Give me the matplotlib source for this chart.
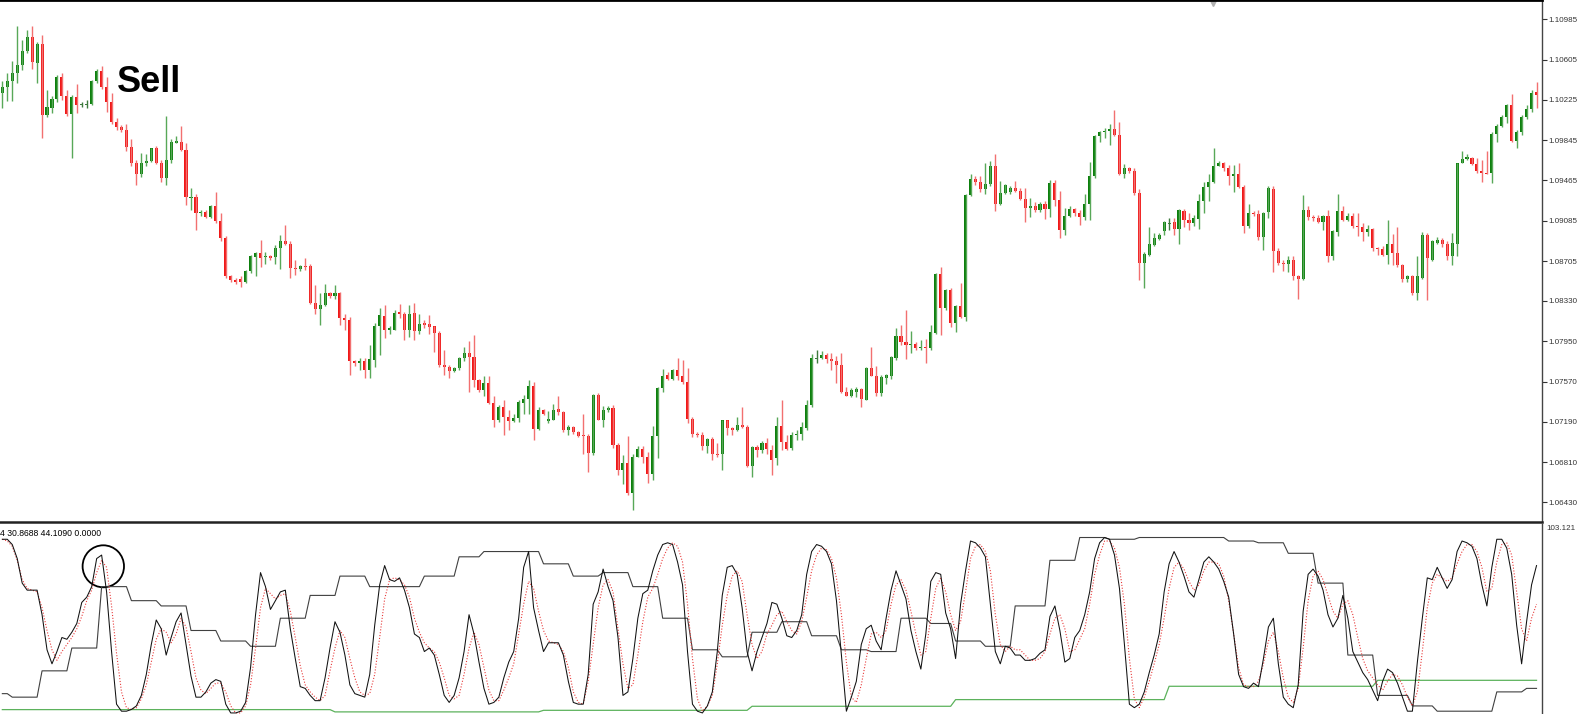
import numpy as np
import matplotlib.pyplot as plt
from matplotlib.patches import Ellipse

plt.rcParams['font.family'] = ['Liberation Sans', 'DejaVu Sans']

# ---- price candles ----
opens = [
    1.1029, 1.1035, 1.1040, 1.1048, 1.1055, 1.1069, 1.1082, 1.1057, 1.1075, 1.1008,
    1.1015, 1.1023, 1.1044, 1.1026, 1.1009, 1.1025, 1.1018, 1.1018, 1.1019, 1.1040,
    1.1050, 1.1035, 1.1020, 1.1002, 1.0997, 1.0994, 1.0978, 1.0963, 1.0953, 1.0963,
    1.0965, 1.0977, 1.0963, 1.0949, 1.0966, 1.0982, 1.0983, 1.0975, 1.0930, 1.0931,
    1.0916, 1.0917, 1.0912, 1.0922, 1.0908, 1.0892, 1.0856, 1.0853, 1.0854, 1.0851,
    1.0861, 1.0874, 1.0878, 1.0874, 1.0875, 1.0874, 1.0883, 1.0889, 1.0887, 1.0864,
    1.0863, 1.0866, 1.0866, 1.0831, 1.0825, 1.0829, 1.0840, 1.0838, 1.0840, 1.0817,
    1.0815, 1.0776, 1.0774, 1.0776, 1.0768, 1.0777, 1.0809, 1.0819, 1.0806, 1.0806,
    1.0823, 1.0821, 1.0806, 1.0822, 1.0805, 1.0812, 1.0811, 1.0809, 1.0803, 1.0773,
    1.0771, 1.0767, 1.0770, 1.0779, 1.0784, 1.0780, 1.0758, 1.0749, 1.0756, 1.0737,
    1.0721, 1.0733, 1.0724, 1.0720, 1.0723, 1.0737, 1.0741, 1.0753, 1.0712, 1.0730,
    1.0720, 1.0721, 1.0731, 1.0728, 1.0711, 1.0714, 1.0709, 1.0707, 1.0706, 1.0690,
    1.0744, 1.0721, 1.0730, 1.0732, 1.0697, 1.0674, 1.0680, 1.0652, 1.0686, 1.0693,
    1.0686, 1.0670, 1.0706, 1.0751, 1.0763, 1.0759, 1.0768, 1.0762, 1.0757, 1.0722,
    1.0708, 1.0707, 1.0696, 1.0703, 1.0689, 1.0689, 1.0721, 1.0713, 1.0711, 1.0716,
    1.0714, 1.0677, 1.0695, 1.0692, 1.0699, 1.0692, 1.0685, 1.0715, 1.0700, 1.0694,
    1.0707, 1.0708, 1.0713, 1.0735, 1.0779, 1.0779, 1.0782, 1.0778, 1.0776, 1.0773,
    1.0747, 1.0743, 1.0747, 1.0750, 1.0740, 1.0770, 1.0762, 1.0746, 1.0760, 1.0762,
    1.0779, 1.0800, 1.0794, 1.0791, 1.0792, 1.0789, 1.0790, 1.0789, 1.0803, 1.0858,
    1.0826, 1.0843, 1.0812, 1.0828, 1.0818, 1.0933, 1.0948, 1.0945, 1.0938, 1.0943,
    1.0960, 1.0924, 1.0935, 1.0936, 1.0939, 1.0937, 1.0929, 1.0921, 1.0922, 1.0919,
    1.0924, 1.0920, 1.0944, 1.0928, 1.0900, 1.0913, 1.0920, 1.0916, 1.0912, 1.0924,
    1.0951, 1.0988, 1.0992, 1.0993, 1.0995, 1.0989, 1.0953, 1.0958, 1.0955, 1.0935,
    1.0869, 1.0876, 1.0886, 1.0891, 1.0899, 1.0906, 1.0907, 1.0901, 1.0918, 1.0909,
    1.0906, 1.0910, 1.0927, 1.0940, 1.0945, 1.0960, 1.0963, 1.0958, 1.0951, 1.0953,
    1.0940, 1.0904, 1.0916, 1.0915, 1.0893, 1.0917, 1.0938, 1.0880, 1.0869, 1.0868,
    1.0872, 1.0856, 1.0854, 1.0919, 1.0912, 1.0911, 1.0907, 1.0913, 1.0875, 1.0898,
    1.0918, 1.0909, 1.0913, 1.0904, 1.0903, 1.0898, 1.0901, 1.0883, 1.0882, 1.0876,
    1.0887, 1.0878, 1.0867, 1.0854, 1.0856, 1.0840, 1.0855, 1.0895, 1.0872, 1.0888,
    1.0890, 1.0887, 1.0875, 1.0887, 1.0963, 1.0967, 1.0968, 1.0962, 1.0955, 1.0954,
    1.0954, 1.0990, 1.0998, 1.1006, 1.1018, 1.0984, 1.0992, 1.1006, 1.1014, 1.1030,
]
highs = [
    1.1040, 1.1048, 1.1059, 1.1092, 1.1079, 1.1088, 1.1092, 1.1077, 1.1084, 1.1032,
    1.1026, 1.1046, 1.1048, 1.1032, 1.1027, 1.1037, 1.1020, 1.1022, 1.1041, 1.1052,
    1.1054, 1.1044, 1.1029, 1.1005, 1.0999, 1.1000, 1.0986, 1.0966, 1.0972, 1.0971,
    1.0977, 1.0979, 1.0966, 1.1007, 1.0986, 1.0988, 1.0998, 1.0982, 1.0939, 1.0934,
    1.0919, 1.0919, 1.0923, 1.0936, 1.0916, 1.0894, 1.0857, 1.0855, 1.0856, 1.0862,
    1.0876, 1.0879, 1.0890, 1.0879, 1.0876, 1.0886, 1.0895, 1.0905, 1.0889, 1.0872,
    1.0867, 1.0873, 1.0868, 1.0848, 1.0840, 1.0849, 1.0841, 1.0848, 1.0841, 1.0821,
    1.0818, 1.0777, 1.0779, 1.0779, 1.0791, 1.0812, 1.0826, 1.0829, 1.0809, 1.0824,
    1.0830, 1.0823, 1.0829, 1.0831, 1.0821, 1.0815, 1.0820, 1.0809, 1.0805, 1.0787,
    1.0773, 1.0771, 1.0780, 1.0790, 1.0795, 1.0801, 1.0759, 1.0762, 1.0762, 1.0743,
    1.0735, 1.0740, 1.0730, 1.0726, 1.0740, 1.0744, 1.0758, 1.0757, 1.0733, 1.0731,
    1.0729, 1.0736, 1.0743, 1.0729, 1.0716, 1.0715, 1.0710, 1.0726, 1.0708, 1.0745,
    1.0746, 1.0734, 1.0734, 1.0735, 1.0699, 1.0688, 1.0706, 1.0689, 1.0696, 1.0696,
    1.0691, 1.0715, 1.0752, 1.0769, 1.0766, 1.0769, 1.0779, 1.0777, 1.0770, 1.0724,
    1.0709, 1.0709, 1.0704, 1.0705, 1.0699, 1.0721, 1.0721, 1.0714, 1.0724, 1.0733,
    1.0716, 1.0696, 1.0697, 1.0701, 1.0704, 1.0697, 1.0724, 1.0740, 1.0707, 1.0709,
    1.0711, 1.0719, 1.0740, 1.0783, 1.0787, 1.0786, 1.0784, 1.0784, 1.0781, 1.0784,
    1.0752, 1.0751, 1.0752, 1.0751, 1.0771, 1.0790, 1.0772, 1.0763, 1.0764, 1.0781,
    1.0807, 1.0810, 1.0824, 1.0805, 1.0794, 1.0796, 1.0797, 1.0810, 1.0859, 1.0865,
    1.0844, 1.0845, 1.0829, 1.0850, 1.0934, 1.0953, 1.0951, 1.0951, 1.0963, 1.0965,
    1.0971, 1.0946, 1.0943, 1.0941, 1.0946, 1.0939, 1.0939, 1.0930, 1.0926, 1.0926,
    1.0927, 1.0947, 1.0947, 1.0937, 1.0921, 1.0922, 1.0921, 1.0919, 1.0934, 1.0964,
    1.0989, 1.0993, 1.0996, 1.1000, 1.1013, 1.1002, 1.0962, 1.0959, 1.0958, 1.0938,
    1.0879, 1.0903, 1.0897, 1.0897, 1.0908, 1.0911, 1.0911, 1.0920, 1.0920, 1.0916,
    1.0914, 1.0934, 1.0945, 1.0953, 1.0977, 1.0965, 1.0964, 1.0961, 1.0961, 1.0963,
    1.0942, 1.0924, 1.0918, 1.0919, 1.0917, 1.0941, 1.0941, 1.0883, 1.0872, 1.0875,
    1.0875, 1.0857, 1.0933, 1.0922, 1.0914, 1.0914, 1.0914, 1.0919, 1.0900, 1.0934,
    1.0922, 1.0916, 1.0916, 1.0916, 1.0906, 1.0905, 1.0902, 1.0884, 1.0885, 1.0909,
    1.0896, 1.0903, 1.0868, 1.0857, 1.0857, 1.0875, 1.0898, 1.0897, 1.0890, 1.0893,
    1.0892, 1.0889, 1.0897, 1.0963, 1.0974, 1.0971, 1.0969, 1.0968, 1.0966, 1.0974,
    1.0992, 1.1000, 1.1008, 1.1019, 1.1028, 1.0994, 1.1008, 1.1018, 1.1032, 1.1039,
]
lows = [
    1.1015, 1.1021, 1.1021, 1.1038, 1.1051, 1.1067, 1.1052, 1.1038, 1.0987, 1.1006,
    1.1010, 1.1020, 1.1022, 1.1007, 1.0968, 1.1010, 1.1016, 1.1015, 1.1018, 1.1038,
    1.1033, 1.1011, 1.1000, 1.0994, 1.0992, 1.0974, 1.0960, 1.0942, 1.0950, 1.0960,
    1.0964, 1.0962, 1.0945, 1.0942, 1.0963, 1.0982, 1.0974, 1.0923, 1.0919, 1.0900,
    1.0913, 1.0911, 1.0911, 1.0906, 1.0889, 1.0855, 1.0851, 1.0849, 1.0846, 1.0850,
    1.0859, 1.0856, 1.0865, 1.0868, 1.0872, 1.0868, 1.0863, 1.0886, 1.0855, 1.0857,
    1.0861, 1.0862, 1.0830, 1.0821, 1.0810, 1.0828, 1.0836, 1.0835, 1.0810, 1.0806,
    1.0763, 1.0772, 1.0768, 1.0760, 1.0760, 1.0771, 1.0782, 1.0798, 1.0802, 1.0806,
    1.0817, 1.0796, 1.0799, 1.0796, 1.0802, 1.0807, 1.0802, 1.0785, 1.0771, 1.0763,
    1.0760, 1.0766, 1.0768, 1.0776, 1.0747, 1.0752, 1.0747, 1.0743, 1.0736, 1.0714,
    1.0719, 1.0707, 1.0711, 1.0719, 1.0719, 1.0726, 1.0726, 1.0702, 1.0711, 1.0725,
    1.0718, 1.0721, 1.0725, 1.0709, 1.0707, 1.0708, 1.0705, 1.0689, 1.0672, 1.0688,
    1.0721, 1.0714, 1.0728, 1.0694, 1.0669, 1.0660, 1.0650, 1.0636, 1.0686, 1.0680,
    1.0661, 1.0664, 1.0685, 1.0747, 1.0758, 1.0758, 1.0758, 1.0755, 1.0718, 1.0705,
    1.0705, 1.0692, 1.0690, 1.0683, 1.0686, 1.0674, 1.0707, 1.0707, 1.0710, 1.0713,
    1.0676, 1.0667, 1.0686, 1.0690, 1.0689, 1.0669, 1.0678, 1.0692, 1.0692, 1.0692,
    1.0702, 1.0702, 1.0711, 1.0733, 1.0774, 1.0778, 1.0774, 1.0768, 1.0756, 1.0746,
    1.0743, 1.0742, 1.0742, 1.0733, 1.0740, 1.0762, 1.0743, 1.0743, 1.0755, 1.0759,
    1.0777, 1.0791, 1.0778, 1.0784, 1.0787, 1.0787, 1.0774, 1.0787, 1.0802, 1.0801,
    1.0824, 1.0808, 1.0804, 1.0817, 1.0814, 1.0932, 1.0942, 1.0936, 1.0934, 1.0941,
    1.0918, 1.0923, 1.0934, 1.0934, 1.0936, 1.0928, 1.0907, 1.0912, 1.0917, 1.0917,
    1.0910, 1.0912, 1.0922, 1.0892, 1.0895, 1.0912, 1.0913, 1.0905, 1.0909, 1.0909,
    1.0949, 1.0983, 1.0987, 1.0980, 1.0988, 1.0952, 1.0949, 1.0954, 1.0933, 1.0853,
    1.0845, 1.0875, 1.0885, 1.0890, 1.0895, 1.0900, 1.0895, 1.0887, 1.0903, 1.0900,
    1.0904, 1.0901, 1.0916, 1.0927, 1.0944, 1.0960, 1.0955, 1.0942, 1.0936, 1.0939,
    1.0897, 1.0902, 1.0913, 1.0890, 1.0881, 1.0911, 1.0860, 1.0867, 1.0861, 1.0860,
    1.0853, 1.0835, 1.0853, 1.0909, 1.0908, 1.0906, 1.0900, 1.0870, 1.0872, 1.0894,
    1.0908, 1.0908, 1.0902, 1.0894, 1.0889, 1.0894, 1.0880, 1.0876, 1.0875, 1.0868,
    1.0867, 1.0865, 1.0851, 1.0851, 1.0839, 1.0834, 1.0854, 1.0834, 1.0871, 1.0887,
    1.0884, 1.0872, 1.0867, 1.0875, 1.0963, 1.0966, 1.0961, 1.0954, 1.0945, 1.0953,
    1.0944, 1.0983, 1.0997, 1.1001, 1.0983, 1.0977, 1.0989, 1.1004, 1.1011, 1.1015,
]
closes = [
    1.1035, 1.1040, 1.1048, 1.1055, 1.1069, 1.1082, 1.1058, 1.1075, 1.1008, 1.1016,
    1.1023, 1.1044, 1.1026, 1.1009, 1.1025, 1.1018, 1.1018, 1.1018, 1.1040, 1.1050,
    1.1035, 1.1020, 1.1002, 1.0997, 1.0994, 1.0978, 1.0963, 1.0953, 1.0963, 1.0965,
    1.0977, 1.0963, 1.0949, 1.0966, 1.0983, 1.0984, 1.0975, 1.0931, 1.0931, 1.0916,
    1.0917, 1.0912, 1.0922, 1.0908, 1.0892, 1.0856, 1.0853, 1.0851, 1.0851, 1.0861,
    1.0875, 1.0878, 1.0873, 1.0875, 1.0873, 1.0883, 1.0889, 1.0887, 1.0864, 1.0863,
    1.0866, 1.0865, 1.0831, 1.0825, 1.0829, 1.0840, 1.0838, 1.0840, 1.0817, 1.0815,
    1.0776, 1.0774, 1.0776, 1.0768, 1.0778, 1.0809, 1.0820, 1.0806, 1.0807, 1.0822,
    1.0821, 1.0806, 1.0821, 1.0805, 1.0811, 1.0810, 1.0808, 1.0803, 1.0773, 1.0771,
    1.0767, 1.0770, 1.0779, 1.0784, 1.0780, 1.0758, 1.0749, 1.0756, 1.0737, 1.0721,
    1.0733, 1.0724, 1.0720, 1.0723, 1.0738, 1.0741, 1.0753, 1.0712, 1.0730, 1.0726,
    1.0722, 1.0730, 1.0728, 1.0711, 1.0714, 1.0709, 1.0706, 1.0706, 1.0690, 1.0744,
    1.0721, 1.0730, 1.0732, 1.0697, 1.0674, 1.0680, 1.0652, 1.0686, 1.0693, 1.0686,
    1.0670, 1.0706, 1.0751, 1.0762, 1.0759, 1.0768, 1.0762, 1.0757, 1.0722, 1.0708,
    1.0707, 1.0696, 1.0703, 1.0689, 1.0688, 1.0721, 1.0713, 1.0711, 1.0716, 1.0714,
    1.0677, 1.0695, 1.0692, 1.0699, 1.0693, 1.0683, 1.0715, 1.0700, 1.0693, 1.0707,
    1.0708, 1.0714, 1.0735, 1.0779, 1.0779, 1.0782, 1.0778, 1.0776, 1.0773, 1.0747,
    1.0743, 1.0749, 1.0750, 1.0741, 1.0770, 1.0762, 1.0746, 1.0761, 1.0763, 1.0780,
    1.0800, 1.0794, 1.0791, 1.0792, 1.0789, 1.0790, 1.0789, 1.0804, 1.0858, 1.0826,
    1.0843, 1.0812, 1.0828, 1.0818, 1.0933, 1.0948, 1.0945, 1.0938, 1.0943, 1.0960,
    1.0924, 1.0935, 1.0942, 1.0939, 1.0937, 1.0929, 1.0921, 1.0922, 1.0919, 1.0924,
    1.0920, 1.0944, 1.0928, 1.0900, 1.0913, 1.0920, 1.0916, 1.0912, 1.0924, 1.0951,
    1.0988, 1.0992, 1.0993, 1.0995, 1.0989, 1.0953, 1.0958, 1.0955, 1.0935, 1.0869,
    1.0877, 1.0887, 1.0892, 1.0895, 1.0907, 1.0906, 1.0901, 1.0919, 1.0909, 1.0906,
    1.0911, 1.0927, 1.0940, 1.0945, 1.0960, 1.0963, 1.0958, 1.0951, 1.0953, 1.0940,
    1.0904, 1.0916, 1.0915, 1.0893, 1.0916, 1.0939, 1.0880, 1.0869, 1.0868, 1.0872,
    1.0856, 1.0854, 1.0919, 1.0912, 1.0911, 1.0907, 1.0913, 1.0875, 1.0899, 1.0918,
    1.0909, 1.0913, 1.0904, 1.0903, 1.0898, 1.0901, 1.0883, 1.0882, 1.0876, 1.0887,
    1.0878, 1.0867, 1.0854, 1.0856, 1.0840, 1.0856, 1.0895, 1.0873, 1.0889, 1.0890,
    1.0887, 1.0875, 1.0888, 1.0963, 1.0967, 1.0969, 1.0962, 1.0955, 1.0954, 1.0953,
    1.0990, 1.0998, 1.1006, 1.1018, 1.0984, 1.0992, 1.1006, 1.1014, 1.1029, 1.1027,
]

price_ticks = [1.10985, 1.10605, 1.10225, 1.09845, 1.09465, 1.09085, 1.08705,
               1.08330, 1.07950, 1.07570, 1.07190, 1.06810, 1.06430]

# ---- oscillator window ----
stoch_main = [
    99, 99, 96, 88, 74, 70, 70, 70, 56, 36, 28, 35, 43, 42, 46, 51, 63, 66, 72, 88,
    90, 69, 35, 5, 1, 1, 2, 4, 10, 22, 39, 53, 48, 33, 43, 52, 57, 39, 21, 9,
    9, 12, 17, 19, 18, 5, 0, 0, 1, 6, 26, 56, 80, 72, 59, 64, 69, 70, 48, 31,
    15, 14, 10, 7, 7, 20, 37, 52, 46, 33, 16, 11, 10, 9, 22, 50, 73, 84, 76, 75,
    77, 70, 60, 45, 43, 35, 37, 33, 22, 10, 6, 10, 20, 35, 56, 45, 29, 14, 5, 6,
    9, 20, 29, 35, 54, 83, 92, 60, 47, 35, 40, 40, 40, 33, 18, 6, 5, 5, 22, 62,
    69, 82, 72, 64, 43, 10, 12, 31, 54, 68, 70, 81, 90, 96, 97, 96, 86, 73, 35, 5,
    1, 0, 4, 12, 35, 67, 83, 84, 79, 60, 35, 24, 35, 43, 51, 63, 62, 54, 44, 43,
    47, 56, 79, 92, 96, 95, 92, 85, 64, 33, 1, 9, 18, 39, 48, 50, 41, 36, 54, 70,
    81, 73, 65, 47, 35, 25, 45, 75, 80, 79, 57, 48, 31, 62, 81, 98, 97, 94, 89, 62,
    35, 28, 38, 37, 33, 33, 30, 30, 31, 34, 36, 55, 61, 47, 29, 31, 43, 47, 56, 69,
    88, 97, 100, 99, 90, 71, 39, 5, 3, 5, 12, 23, 33, 45, 69, 85, 92, 86, 78, 69,
    66, 76, 86, 89, 86, 82, 75, 66, 45, 22, 15, 14, 17, 15, 31, 49, 54, 28, 9, 5,
    3, 16, 58, 79, 82, 78, 70, 56, 49, 54, 67, 54, 35, 29, 23, 19, 13, 7, 18, 25,
    23, 17, 9, 1, 1, 29, 54, 77, 76, 83, 77, 71, 76, 92, 98, 97, 95, 88, 73, 61,
    83, 99, 99, 94, 79, 50, 28, 52, 73, 84,
]
stoch_signal = [
    99, 98, 95, 87, 76, 71, 70, 69, 60, 47, 36, 30, 35, 39, 43, 48, 55, 64, 70, 80,
    87, 83, 61, 34, 12, 3, 2, 3, 8, 16, 29, 42, 48, 46, 40, 45, 54, 49, 35, 20,
    13, 11, 14, 17, 17, 12, 4, 0, 0, 4, 16, 37, 60, 71, 68, 65, 67, 68, 58, 43,
    27, 16, 12, 9, 7, 10, 24, 37, 47, 43, 31, 20, 12, 10, 11, 22, 43, 65, 76, 77,
    76, 73, 66, 54, 46, 40, 37, 35, 29, 20, 10, 8, 10, 22, 37, 46, 39, 26, 13, 7,
    7, 13, 20, 28, 45, 62, 75, 71, 58, 47, 41, 40, 39, 35, 26, 12, 6, 5, 18, 39,
    60, 73, 76, 69, 48, 28, 14, 16, 33, 52, 66, 71, 79, 88, 94, 97, 95, 86, 62, 31,
    8, 1, 4, 10, 28, 50, 67, 78, 81, 75, 56, 39, 31, 35, 45, 50, 56, 58, 52, 47,
    45, 52, 66, 81, 90, 94, 93, 88, 77, 56, 29, 9, 6, 16, 31, 45, 46, 43, 47, 62,
    73, 76, 70, 58, 45, 33, 35, 54, 71, 77, 69, 56, 47, 52, 69, 88, 95, 96, 92, 81,
    56, 39, 35, 38, 36, 36, 33, 30, 30, 31, 35, 45, 54, 56, 48, 35, 36, 42, 48, 62,
    79, 90, 98, 98, 94, 83, 62, 31, 8, 3, 9, 18, 28, 39, 54, 71, 83, 86, 82, 75,
    70, 73, 81, 86, 86, 85, 78, 64, 45, 26, 16, 15, 15, 18, 28, 41, 46, 35, 20, 9,
    6, 14, 37, 64, 78, 81, 76, 67, 58, 54, 62, 64, 56, 43, 31, 24, 20, 16, 13, 18,
    22, 21, 16, 9, 4, 12, 35, 60, 74, 79, 77, 75, 77, 85, 92, 96, 96, 92, 83, 69,
    71, 86, 96, 97, 90, 69, 48, 41, 54, 62,
]
# stepped band: bar index where each level starts, and the level
band_start = [0, 2, 8, 14, 20, 26, 32, 38, 44, 50, 56, 62, 68, 74, 85, 92, 97, 109,
              115, 121, 127, 133, 139, 145, 151, 157, 163, 169, 175, 181, 187, 192,
              198, 204, 211, 217, 223, 229, 247, 253, 259, 265, 271, 277, 284, 289,
              301, 307]
band_level = [11, 9, 24, 37, 72, 64, 61, 47, 41, 38, 54, 67, 78, 72, 78, 89, 92, 85,
              78, 80, 72, 54, 36, 32, 46, 52, 44, 36, 35, 54, 51, 41, 38, 61, 87, 100,
              99, 100, 98, 97, 91, 74, 33, 10, 4, 1, 12, 14]
green_start = [0, 67, 109, 151, 192, 235, 277]
green_level = [1.9, 0.6, 1.5, 3.8, 7.6, 15.2, 18.6]

header = "4 30.8688 44.1090 0.0000"

o = np.array(opens)
h = np.array(highs)
l = np.array(lows)
c = np.array(closes)
n = len(c)
x = np.arange(n)

band = np.repeat(band_level, np.diff(band_start + [n]))
green = np.repeat(green_level, np.diff(green_start + [n]))

W, H = 1578, 714
fig = plt.figure(figsize=(W / 100, H / 100), dpi=100)
ax = fig.add_axes([0, 192 / H, 1542 / W, 522 / H])
ax2 = fig.add_axes([0, 0, 1542 / W, 190 / H])

# candles
body_col = np.where(c > o, '#0d7f0d', np.where(c < o, '#f01818', '#3d7a3d'))
wick_col = np.where(c > o, '#58a858', np.where(c < o, '#f27070', '#3d7a3d'))
ax.vlines(x, l, h, colors=wick_col, lw=1)
body_h = np.maximum(np.abs(c - o), 0.00009)
body_b = np.where(np.abs(c - o) < 0.00009, (o + c) / 2 - 0.000045, np.minimum(o, c))
ax.bar(x, body_h, bottom=body_b, width=0.62, color=body_col, linewidth=0)

ax.set_xlim(-0.47, -0.47 + 1542 / 4.965)
ax.set_ylim(1.06246, 1.11166)
ax.yaxis.tick_right()
ax.set_yticks(price_ticks)
ax.set_yticklabels(['%.5f' % t for t in price_ticks])
ax.tick_params(axis='y', length=3.5, width=0.8, pad=1, labelsize=5.8,
               colors='#333333')
ax.set_xticks([])
ax.spines['left'].set_visible(False)
ax.spines['top'].set_linewidth(2)
ax.spines['top'].set_color('black')
ax.spines['bottom'].set_linewidth(1.8)
ax.spines['bottom'].set_color('#222222')
ax.spines['right'].set_color('#444444')
ax.spines['right'].set_linewidth(1)

ax.text(117 / 1542, (522 - 92) / 522, 'Sell', transform=ax.transAxes,
        fontsize=26, fontweight='bold', va='baseline', ha='left', color='black')
ax.plot([1213 / 1542], [1 - 2 / 522], marker='v', ms=6, color='#b0b0b0',
        transform=ax.transAxes, clip_on=False)

# oscillator
ax2.plot(x, green, color='#5cb25c', lw=0.9)
ax2.plot(x, band, color='#404040', lw=0.8)
ax2.plot(x, stoch_signal, color='#e83a3a', lw=0.8, ls=(0, (1, 1.6)))
ax2.plot(x, stoch_main, color='#111111', lw=0.75)
ax2.set_xlim(ax.get_xlim())
ax2.set_ylim(-0.6, 107.7)
ax2.set_xticks([])
ax2.set_yticks([])
ax2.spines['left'].set_visible(False)
ax2.spines['bottom'].set_visible(False)
ax2.spines['top'].set_visible(False)
ax2.spines['right'].set_color('#444444')
ax2.spines['right'].set_linewidth(1)
ax2.text(0.0, (714 - 533.5) / 190, header, transform=ax2.transAxes,
         fontsize=6.2, va='center', ha='left', color='black')
ax2.add_patch(Ellipse((103.3 / 1542, (714 - 566.3) / 190), 41.4 / 1542, 42 / 190,
                      transform=ax2.transAxes, fill=False, ec='black', lw=1.3))
fig.text(1546 / W, (714 - 529) / H, '103.121', fontsize=5.8, va='center',
         ha='left', color='#333333')

fig.savefig('out.png', dpi=100, facecolor='white')
